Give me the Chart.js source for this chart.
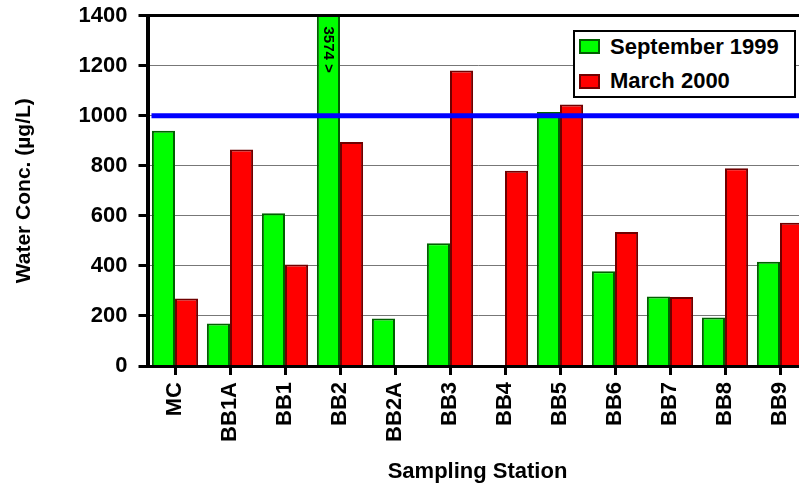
<!DOCTYPE html>
<html>
<head>
<meta charset="utf-8">
<script src="https://cdn.jsdelivr.net/npm/chart.js@4.4.0/dist/chart.umd.min.js"></script>
<style>
  html, body { margin: 0; padding: 0; background: #fff; overflow: hidden; }
  #wrap { position: relative; width: 812px; height: 491px; }
  #legend {
    position: absolute; left: 573px; top: 30px; width: 223px; height: 68px;
    box-sizing: border-box; border: 2px solid #000; background: #fff;
    font: bold 22px "Liberation Sans", Arial, sans-serif; color: #000;
  }
  #legend .sw { position: absolute; left: 4px; width: 21px; height: 15px; box-sizing: border-box; border: 2px solid; }
  #legend .lbl { position: absolute; left: 35px; line-height: 22px; white-space: nowrap; }
</style>
</head>
<body>
<div id="wrap">
  <canvas id="waterChart" width="812" height="491"></canvas>
  <div id="legend">
    <span class="sw" style="top:7px;background:#00ff00;border-color:#006000"></span>
    <span class="lbl" style="top:4px">September 1999</span>
    <span class="sw" style="top:42px;background:#ff0000;border-color:#700000"></span>
    <span class="lbl" style="top:38px">March 2000</span>
  </div>
</div>
<script>
  // stations along the x axis
  const stations = ['MC', 'BB1A', 'BB1', 'BB2', 'BB2A', 'BB3', 'BB4', 'BB5', 'BB6', 'BB7', 'BB8', 'BB9'];
  // water concentration, µg/L
  const sep1999 = [940, 170, 610, 3574, 190, 490, null, 1015, 378, 278, 194, 416];
  const mar2000 = [270, 865, 405, 895, null, 1180, 780, 1045, 535, 276, 790, 572];
  const yTicks = [0, 200, 400, 600, 800, 1000, 1200, 1400];
  const LIMIT = 1000;   // blue guideline
  const FONT = '"Liberation Sans", Arial, sans-serif';

  Chart.defaults.font.family = FONT;
  Chart.defaults.font.weight = 'bold';
  Chart.defaults.color = '#000';

  const overlay = {
    id: 'overlay',
    afterDatasetsDraw(chart) {
      const { ctx, chartArea, scales } = chart;
      ctx.save();
      // top frame line
      ctx.strokeStyle = '#000';
      ctx.lineWidth = 3;
      ctx.beginPath();
      ctx.moveTo(chartArea.left, chartArea.top);
      ctx.lineTo(chartArea.right, chartArea.top);
      ctx.stroke();
      // guideline at 1000
      const y = scales.y.getPixelForValue(LIMIT);
      ctx.strokeStyle = '#0000ff';
      ctx.lineWidth = 5;
      ctx.beginPath();
      ctx.moveTo(chartArea.left + 4, y);
      ctx.lineTo(chartArea.right, y);
      ctx.stroke();
      // value of the off-scale bar
      const idx = sep1999.findIndex(v => v > yTicks[yTicks.length - 1]);
      const bar = chart.getDatasetMeta(0).data[idx];
      ctx.translate(bar.x, chartArea.top + 11);
      ctx.rotate(Math.PI / 2);
      ctx.fillStyle = '#000';
      ctx.font = 'bold 15px ' + FONT;
      ctx.textAlign = 'left';
      ctx.textBaseline = 'middle';
      ctx.fillText(sep1999[idx] + ' >', 0, 0);
      ctx.restore();
    }
  };

  new Chart(document.getElementById('waterChart'), {
    type: 'bar',
    data: {
      labels: stations,
      datasets: [
        { label: 'September 1999', data: sep1999, backgroundColor: '#00ff00', borderColor: '#006000', borderWidth: 2 },
        { label: 'March 2000', data: mar2000, backgroundColor: '#ff0000', borderColor: '#700000', borderWidth: 2 }
      ]
    },
    options: {
      responsive: false,
      animation: false,
      events: [],
      datasets: { bar: { categoryPercentage: 0.84, barPercentage: 1.0 } },
      layout: { padding: { top: 15.5, right: 4.5, left: 0, bottom: 0 } },
      plugins: { legend: { display: false }, tooltip: { enabled: false } },
      scales: {
        x: {
          afterFit: s => { s.height = 125; s.paddingLeft = 0; s.paddingRight = 0; },
          grid: { drawOnChartArea: false, offset: false, tickLength: 9, tickColor: '#000', tickWidth: 3 },
          border: { color: '#000', width: 3, z: 1 },
          ticks: { autoSkip: false, minRotation: 90, maxRotation: 90, padding: 7, font: { size: 22, weight: 'bold' } },
          title: { display: true, text: 'Sampling Station', font: { size: 22, weight: 'bold' }, padding: { top: 0, bottom: 6 } }
        },
        y: {
          afterFit: s => { s.width = 147.5; s.paddingTop = 0; s.paddingBottom = 0; },
          min: 0,
          max: 1400,
          afterBuildTicks: s => { s.ticks = yTicks.map(v => ({ value: v })); },
          grid: { color: '#777', lineWidth: 1, tickLength: 9, tickColor: '#000', tickWidth: 3 },
          border: { color: '#000', width: 4, z: 1 },
          ticks: { padding: 11, font: { size: 22, weight: 'bold' }, callback: v => String(v) },
          title: { display: true, text: 'Water Conc. (µg/L)', font: { size: 21, weight: 'bold' }, padding: { top: 12, bottom: 0 } }
        }
      }
    },
    plugins: [overlay]
  });
</script>
</body>
</html>
